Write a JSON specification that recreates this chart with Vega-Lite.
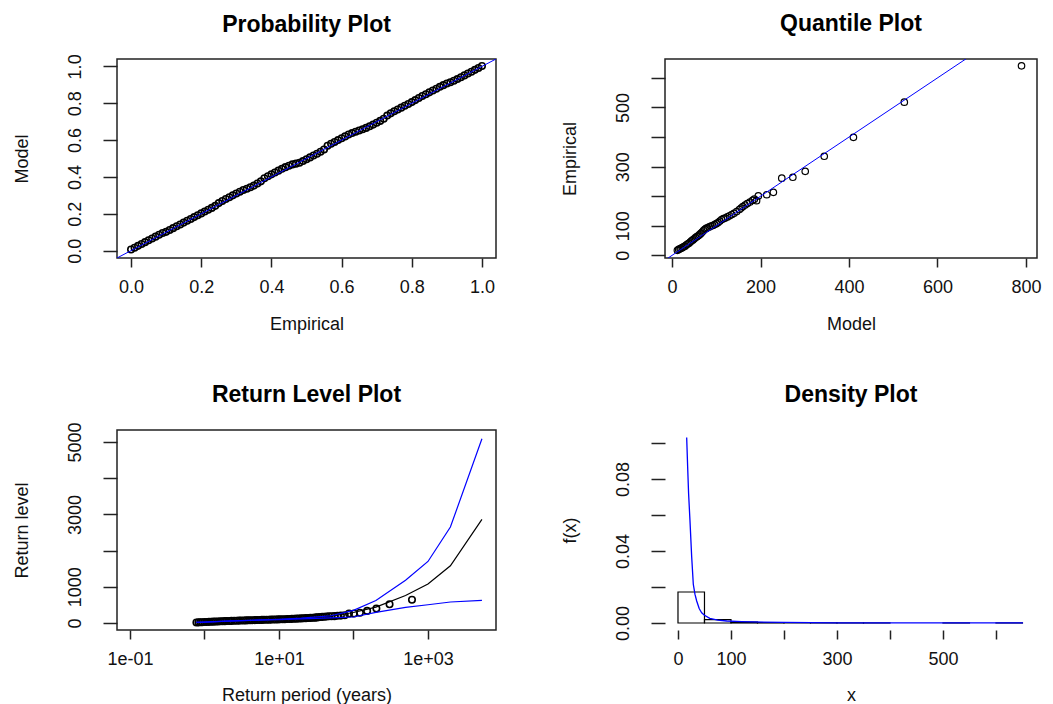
{
  "$schema": "https://vega.github.io/schema/vega-lite/v6.json",
  "background": "white",
  "padding": {"left": 12, "top": 12, "right": 5, "bottom": 0},
  "columns": 2,
  "spacing": {"row": 172, "column": 169},
  "bounds": "flush",
  "datasets": {
    "prob": [
      {"e":0.00,"m":0.006},{"e":0.01,"m":0.016},{"e":0.02,"m":0.026},{"e":0.03,"m":0.036},{"e":0.04,"m":0.046},
      {"e":0.05,"m":0.056},{"e":0.06,"m":0.066},{"e":0.07,"m":0.076},{"e":0.08,"m":0.086},{"e":0.09,"m":0.096},
      {"e":0.10,"m":0.102},{"e":0.11,"m":0.112},{"e":0.12,"m":0.122},{"e":0.13,"m":0.132},{"e":0.14,"m":0.142},
      {"e":0.15,"m":0.152},{"e":0.16,"m":0.162},{"e":0.17,"m":0.172},{"e":0.18,"m":0.182},{"e":0.19,"m":0.192},
      {"e":0.20,"m":0.202},{"e":0.21,"m":0.212},{"e":0.22,"m":0.222},{"e":0.23,"m":0.232},{"e":0.24,"m":0.243},
      {"e":0.25,"m":0.258},{"e":0.26,"m":0.269},{"e":0.27,"m":0.280},{"e":0.28,"m":0.290},{"e":0.29,"m":0.300},
      {"e":0.30,"m":0.310},{"e":0.31,"m":0.320},{"e":0.32,"m":0.329},{"e":0.33,"m":0.336},{"e":0.34,"m":0.344},
      {"e":0.35,"m":0.353},{"e":0.36,"m":0.364},{"e":0.37,"m":0.376},{"e":0.38,"m":0.393},{"e":0.39,"m":0.404},
      {"e":0.40,"m":0.414},{"e":0.41,"m":0.424},{"e":0.42,"m":0.434},{"e":0.43,"m":0.444},{"e":0.44,"m":0.453},
      {"e":0.45,"m":0.461},{"e":0.46,"m":0.468},{"e":0.47,"m":0.472},{"e":0.48,"m":0.477},{"e":0.49,"m":0.486},
      {"e":0.50,"m":0.496},{"e":0.51,"m":0.506},{"e":0.52,"m":0.516},{"e":0.53,"m":0.526},{"e":0.54,"m":0.537},
      {"e":0.55,"m":0.549},{"e":0.56,"m":0.569},{"e":0.57,"m":0.580},{"e":0.58,"m":0.590},{"e":0.59,"m":0.600},
      {"e":0.60,"m":0.610},{"e":0.61,"m":0.620},{"e":0.62,"m":0.630},{"e":0.63,"m":0.638},{"e":0.64,"m":0.645},
      {"e":0.65,"m":0.652},{"e":0.66,"m":0.659},{"e":0.67,"m":0.666},{"e":0.68,"m":0.675},{"e":0.69,"m":0.684},
      {"e":0.70,"m":0.694},{"e":0.71,"m":0.704},{"e":0.72,"m":0.716},{"e":0.73,"m":0.733},{"e":0.74,"m":0.745},
      {"e":0.75,"m":0.756},{"e":0.76,"m":0.766},{"e":0.77,"m":0.776},{"e":0.78,"m":0.786},{"e":0.79,"m":0.796},
      {"e":0.80,"m":0.806},{"e":0.81,"m":0.817},{"e":0.82,"m":0.828},{"e":0.83,"m":0.839},{"e":0.84,"m":0.849},
      {"e":0.85,"m":0.859},{"e":0.86,"m":0.869},{"e":0.87,"m":0.879},{"e":0.88,"m":0.889},{"e":0.89,"m":0.898},
      {"e":0.90,"m":0.907},{"e":0.91,"m":0.914},{"e":0.92,"m":0.922},{"e":0.93,"m":0.931},{"e":0.94,"m":0.941},
      {"e":0.95,"m":0.951},{"e":0.96,"m":0.961},{"e":0.97,"m":0.971},{"e":0.98,"m":0.981},{"e":0.99,"m":0.991},
      {"e":1.00,"m":1.002}
    ],
    "probline": [{"e":-0.04,"m":-0.04},{"e":1.04,"m":1.04}],
    "quant": [
      {"m":12,"e":17},{"m":15,"e":20},{"m":18,"e":22},{"m":20,"e":24},{"m":23,"e":26},{"m":26,"e":29},
      {"m":29,"e":31},{"m":32,"e":35},{"m":35,"e":38},{"m":38,"e":41},{"m":41,"e":45},{"m":44,"e":49},
      {"m":47,"e":52},{"m":50,"e":56},{"m":53,"e":60},{"m":56,"e":63},{"m":59,"e":66},{"m":62,"e":70},
      {"m":65,"e":74},{"m":68,"e":79},{"m":71,"e":84},{"m":74,"e":88},{"m":77,"e":91},{"m":80,"e":93},
      {"m":84,"e":96},{"m":88,"e":99},{"m":92,"e":101},{"m":96,"e":104},{"m":100,"e":107},{"m":104,"e":111},
      {"m":108,"e":116},{"m":112,"e":121},{"m":116,"e":124},{"m":120,"e":126},{"m":125,"e":130},{"m":130,"e":134},
      {"m":135,"e":138},{"m":140,"e":142},{"m":146,"e":148},{"m":152,"e":155},{"m":156,"e":160},{"m":160,"e":165},
      {"m":165,"e":170},{"m":170,"e":175},{"m":176,"e":180},{"m":182,"e":186},{"m":186,"e":190},
      {"m":191,"e":185},{"m":195,"e":201},{"m":214,"e":205},{"m":229,"e":213},{"m":248,"e":261},
      {"m":273,"e":264},{"m":301,"e":284},{"m":344,"e":335},{"m":410,"e":399},{"m":525,"e":518},{"m":790,"e":641}
    ],
    "quantline": [{"m":-16,"e":-16},{"m":825,"e":825}],
    "rlpts": [
      {"t":0.78,"r":15},{"t":0.83,"r":18},{"t":0.88,"r":21},{"t":0.93,"r":23},{"t":1.0,"r":26},{"t":1.07,"r":29},
      {"t":1.15,"r":32},{"t":1.23,"r":35},{"t":1.32,"r":38},{"t":1.42,"r":41},{"t":1.52,"r":44},{"t":1.63,"r":47},
      {"t":1.75,"r":50},{"t":1.88,"r":52},{"t":2.0,"r":54},{"t":2.15,"r":57},{"t":2.3,"r":59},{"t":2.5,"r":62},
      {"t":2.7,"r":64},{"t":2.9,"r":66},{"t":3.1,"r":68},{"t":3.35,"r":70},{"t":3.6,"r":72},{"t":3.85,"r":74},
      {"t":4.1,"r":76},{"t":4.4,"r":78},{"t":4.75,"r":80},{"t":5.1,"r":82},{"t":5.5,"r":84},{"t":5.9,"r":86},
      {"t":6.3,"r":88},{"t":6.8,"r":90},{"t":7.3,"r":92},{"t":7.8,"r":94},{"t":8.4,"r":96},{"t":9.0,"r":98},
      {"t":9.7,"r":100},{"t":10.4,"r":102},{"t":11.2,"r":104},{"t":12.0,"r":106},{"t":12.9,"r":109},{"t":13.9,"r":112},
      {"t":14.9,"r":115},{"t":16.0,"r":118},{"t":17.2,"r":121},{"t":18.5,"r":124},{"t":19.9,"r":127},{"t":21.4,"r":130},
      {"t":23.0,"r":134},{"t":24.7,"r":138},{"t":26.5,"r":141},{"t":28.5,"r":144},{"t":30.5,"r":148},
      {"t":32.1,"r":155},{"t":33.9,"r":160},{"t":35.9,"r":165},{"t":38.1,"r":170},{"t":40.7,"r":175},
      {"t":43.6,"r":180},{"t":46.9,"r":185},{"t":50.8,"r":186},{"t":55.5,"r":190},{"t":61,"r":201},
      {"t":67.8,"r":205},{"t":76.3,"r":213},{"t":87.1,"r":261},{"t":101.7,"r":264},{"t":122,"r":284},
      {"t":152.5,"r":335},{"t":203,"r":399},{"t":305,"r":518},{"t":610,"r":641}
    ],
    "rllines": [
      {"s":"est","t":0.78,"r":15},{"s":"est","t":1,"r":26},{"s":"est","t":2,"r":52},{"s":"est","t":5,"r":80},
      {"s":"est","t":10,"r":100},{"s":"est","t":20,"r":128},{"s":"est","t":50,"r":190},{"s":"est","t":100,"r":290},
      {"s":"est","t":200,"r":440},{"s":"est","t":500,"r":760},{"s":"est","t":1000,"r":1080},{"s":"est","t":2000,"r":1580},
      {"s":"est","t":5300,"r":2864},
      {"s":"hi","t":0.78,"r":15},{"s":"hi","t":1,"r":26},{"s":"hi","t":2,"r":52},{"s":"hi","t":5,"r":82},
      {"s":"hi","t":10,"r":104},{"s":"hi","t":20,"r":135},{"s":"hi","t":50,"r":200},{"s":"hi","t":100,"r":350},
      {"s":"hi","t":200,"r":620},{"s":"hi","t":500,"r":1180},{"s":"hi","t":1000,"r":1700},{"s":"hi","t":2000,"r":2650},
      {"s":"hi","t":5300,"r":5091},
      {"s":"lo","t":0.78,"r":15},{"s":"lo","t":1,"r":25},{"s":"lo","t":2,"r":50},{"s":"lo","t":5,"r":77},
      {"s":"lo","t":10,"r":96},{"s":"lo","t":20,"r":115},{"s":"lo","t":50,"r":140},{"s":"lo","t":100,"r":166},
      {"s":"lo","t":200,"r":292},{"s":"lo","t":500,"r":432},{"s":"lo","t":1000,"r":505},{"s":"lo","t":2000,"r":580},
      {"s":"lo","t":5300,"r":627}
    ],
    "hist": [
      {"x":0,"b":50,"f":0.0172},{"x":50,"b":100,"f":0.0019},{"x":100,"b":150,"f":0.0005},{"x":150,"b":200,"f":0.0002},
      {"x":200,"b":250,"f":0.00008},{"x":250,"b":300,"f":0.00008},{"x":300,"b":350,"f":0.00003},{"x":350,"b":400,"f":0.00003},
      {"x":500,"b":550,"f":0.00003},{"x":600,"b":650,"f":0.00003}
    ],
    "dens": [
      {"x":16.4,"f":0.103},{"x":18.2,"f":0.087},{"x":20,"f":0.072},{"x":22.6,"f":0.057},{"x":25.8,"f":0.037},
      {"x":28.9,"f":0.0215},{"x":32,"f":0.016},{"x":35.3,"f":0.0122},{"x":40,"f":0.008},{"x":44.7,"f":0.0057},
      {"x":50,"f":0.0043},{"x":60,"f":0.0026},{"x":75,"f":0.0016},{"x":92,"f":0.0011},{"x":120,"f":0.0008},
      {"x":142,"f":0.0006},{"x":200,"f":0.0003},{"x":300,"f":0.0001},{"x":400,"f":0.00005},{"x":500,"f":0.00003},
      {"x":651,"f":0.00001}
    ]
  },
  "concat": [
    {
      "width": 379, "height": 199,
      "title": {"text": "Probability Plot", "offset": 17},
      "encoding": {
        "x": {"field": "e", "type": "quantitative", "scale": {"domain": [-0.04, 1.04], "nice": false, "zero": false},
              "axis": {"title": "Empirical", "values": [0, 0.2, 0.4, 0.6, 0.8, 1.0], "format": ".1f", "labelOverlap": false}},
        "y": {"field": "m", "type": "quantitative", "scale": {"domain": [-0.04, 1.04], "nice": false, "zero": false},
              "axis": {"title": "Model", "values": [0, 0.2, 0.4, 0.6, 0.8, 1.0], "format": ".1f", "labelOverlap": false}}
      },
      "layer": [
        {
          "data": {"name": "prob"},
          "mark": {"type": "point", "shape": "circle", "filled": false, "color": "black", "size": 42, "strokeWidth": 1.6, "opacity": 1}
        },
        {
          "data": {"name": "probline"},
          "mark": {"type": "line", "color": "#0000ff", "strokeWidth": 1, "clip": true}
        }
      ]
    },
    {
      "width": 372, "height": 199,
      "title": {"text": "Quantile Plot", "offset": 23},
      "encoding": {
        "x": {"field": "m", "type": "quantitative", "scale": {"domain": [-16, 825], "nice": false, "zero": false},
              "axis": {"title": "Model", "values": [0, 200, 400, 600, 800], "labelOverlap": false}},
        "y": {"field": "e", "type": "quantitative", "scale": {"domain": [-9, 664], "nice": false, "zero": false},
              "axis": {"title": "Empirical", "values": [0, 100, 200, 300, 400, 500, 600], "labelOverlap": false,
                       "labelExpr": "(datum.value == 200 || datum.value == 400 || datum.value == 600) ? '' : datum.label"}}
      },
      "layer": [
        {
          "data": {"name": "quant"},
          "mark": {"type": "point", "shape": "circle", "filled": false, "color": "black", "size": 42, "strokeWidth": 1.2, "opacity": 1}
        },
        {
          "data": {"name": "quantline"},
          "mark": {"type": "line", "color": "#0000ff", "strokeWidth": 1, "clip": true}
        }
      ]
    },
    {
      "width": 379, "height": 200,
      "title": {"text": "Return Level Plot", "offset": 15},
      "encoding": {
        "x": {"field": "t", "type": "quantitative", "scale": {"type": "log", "domain": [0.067, 8185], "nice": false},
              "axis": {"title": "Return period (years)", "titlePadding": 18, "values": [0.1, 1, 10, 100, 1000], "labelOverlap": false,
                       "labelExpr": "datum.value < 0.5 ? '1e-01' : (datum.value > 5 && datum.value < 50) ? '1e+01' : datum.value > 500 ? '1e+03' : ''"}},
        "y": {"field": "r", "type": "quantitative", "scale": {"domain": [-193, 5331], "nice": false, "zero": false},
              "axis": {"title": "Return level", "values": [0, 1000, 2000, 3000, 4000, 5000], "format": "d", "labelOverlap": false,
                       "labelExpr": "(datum.value == 2000 || datum.value == 4000) ? '' : datum.label"}}
      },
      "layer": [
        {
          "data": {"name": "rlpts"},
          "mark": {"type": "point", "shape": "circle", "filled": false, "color": "black", "size": 42, "strokeWidth": 1.6, "opacity": 1}
        },
        {
          "data": {"name": "rllines"},
          "mark": {"type": "line", "strokeWidth": 1.2, "clip": true},
          "encoding": {
            "color": {"field": "s", "type": "nominal", "scale": {"domain": ["est", "hi", "lo"], "range": ["#000000", "#0000ff", "#0000ff"]}, "legend": null}
          }
        }
      ]
    },
    {
      "width": 372, "height": 200,
      "title": {"text": "Density Plot", "offset": 23},
      "view": {"stroke": null},
      "encoding": {
        "x": {"field": "x", "type": "quantitative", "scale": {"domain": [-24.5, 677.4], "nice": false, "zero": false},
              "axis": {"title": "x", "titlePadding": 18, "values": [0, 100, 200, 300, 400, 500, 600], "labelOverlap": false,
                       "labelExpr": "(datum.value == 200 || datum.value == 400 || datum.value == 600) ? '' : datum.label"}},
        "y": {"field": "f", "type": "quantitative", "scale": {"domain": [-0.0039, 0.1072], "nice": false, "zero": false},
              "axis": {"title": "f(x)", "values": [0, 0.02, 0.04, 0.06, 0.08, 0.1], "labelOverlap": false,
                       "labelExpr": "(datum.value < 0.001 || abs(datum.value - 0.04) < 0.001 || abs(datum.value - 0.08) < 0.001) ? format(datum.value, '.2f') : ''"}}
      },
      "layer": [
        {
          "data": {"name": "hist"},
          "mark": {"type": "rect", "fillOpacity": 0, "stroke": "black", "strokeWidth": 1.2},
          "encoding": {
            "x2": {"field": "b"},
            "y2": {"datum": 0}
          }
        },
        {
          "data": {"name": "dens"},
          "mark": {"type": "line", "color": "#0000ff", "strokeWidth": 1.3, "clip": true}
        },
        {
          "data": {"values": [{}]},
          "mark": {"type": "rule", "color": "#222", "strokeWidth": 1.5},
          "encoding": {
            "x": {"datum": 0, "type": "quantitative"},
            "x2": {"datum": 600},
            "y": {"datum": -0.0039, "type": "quantitative"}
          }
        },
        {
          "data": {"values": [{}]},
          "mark": {"type": "rule", "color": "#222", "strokeWidth": 1.5},
          "encoding": {
            "x": {"datum": -24.5, "type": "quantitative"},
            "y": {"datum": 0, "type": "quantitative"},
            "y2": {"datum": 0.1}
          }
        }
      ]
    }
  ],
  "config": {
    "font": "Liberation Sans",
    "view": {"stroke": "#222", "strokeWidth": 1.5},
    "axis": {
      "grid": false, "domain": false,
      "labelFont": "Liberation Sans", "labelFontSize": 18, "labelColor": "#111",
      "titleFont": "Liberation Sans", "titleFontSize": 18, "titleFontWeight": "normal", "titleColor": "#111",
      "tickColor": "#222", "tickWidth": 1.5,
      "labelOverlap": false, "labelFlush": false, "labelBound": false
    },
    "axisX": {"tickSize": 9, "labelPadding": 11, "titlePadding": 19},
    "axisY": {"tickSize": 14, "labelPadding": 19, "labelAngle": -90, "labelAlign": "center", "labelBaseline": "bottom", "titlePadding": 35, "labelOverlap": false},
    "title": {"font": "Liberation Sans", "fontSize": 23, "fontWeight": "bold", "color": "#000", "anchor": "middle", "frame": "group", "baseline": "alphabetic"}
  }
}
